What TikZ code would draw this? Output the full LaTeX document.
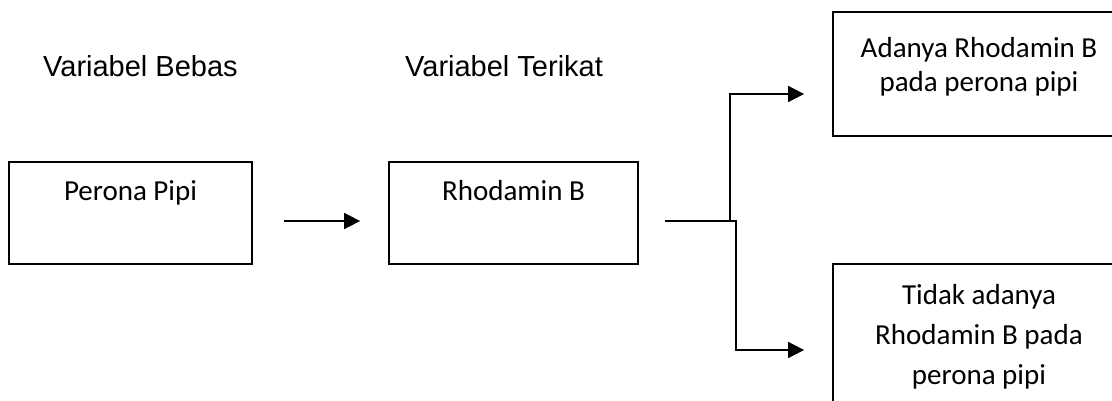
\documentclass[tikz,border=0pt]{standalone}
\usepackage{fontspec}
\setmainfont{Carlito}
\newfontfamily\arialfont{Liberation Sans}
\usetikzlibrary{arrows.meta,calc}
\tikzset{
  frame/.style={draw=black,line width=1.8pt,inner sep=0pt},
  txt/.style={font=\fontsize{29}{33}\selectfont,anchor=base,inner sep=0pt},
  head/.style={font=\arialfont\fontsize{29}{33}\selectfont,anchor=base west,inner sep=0pt},
  conn/.style={line width=1.8pt},
  arr/.style={conn,-{Triangle[length=16pt,width=16pt]}}
}
\begin{document}
\begin{tikzpicture}[x=1pt,y=-1pt]
\clip (0,0) rectangle (1112,400);
% boxes
\node[frame,minimum width=243pt,minimum height=102pt] (pp) at (130.5,213) {};
\node[frame,minimum width=249pt,minimum height=102pt] (rb) at (513.5,213) {};
\node[frame,minimum width=292pt,minimum height=124pt] (ya) at (979,74) {};
\node[frame,minimum width=292pt,minimum height=160pt] (no) at (979,344) {};
% texts
\node[txt] (ppt) at (130.5,200) {Perona Pipi};
\node[txt] (rbt) at (513.5,200) {Rhodamin B};
\node[txt] (yat1) at (979,57) {Adanya Rhodamin B};
\node[txt] (yat2) at (979,91) {pada perona pipi};
\node[txt] (not1) at (979,304) {Tidak adanya};
\node[txt] (not2) at (979,344) {Rhodamin B pada};
\node[txt] (not3) at (979,384) {perona pipi};
\node[head] (hb) at (43,76) {Variabel Bebas};
\node[head] (ht) at (405,76) {Variabel Terikat};
% connectors
\coordinate (a1s) at ($(pp.east)+(31,8)$);
\coordinate (a1e) at ($(rb.west)+(-28,8)$);
\draw[arr] (a1s) -- (a1e);
\coordinate (b0) at ($(rb.east)+(26,8)$);
\coordinate (bj) at ($(rb.east)+(97,8)$);
\coordinate (bu) at ($(rb.east)+(91,8)$);
\coordinate (yatip) at ($(ya.west)+(-28,20)$);
\coordinate (notip) at ($(no.west)+(-28,6)$);
\draw[arr] (b0) -- (bj) |- (notip);
\draw[arr] (bu) |- (yatip);
\end{tikzpicture}
\end{document}
